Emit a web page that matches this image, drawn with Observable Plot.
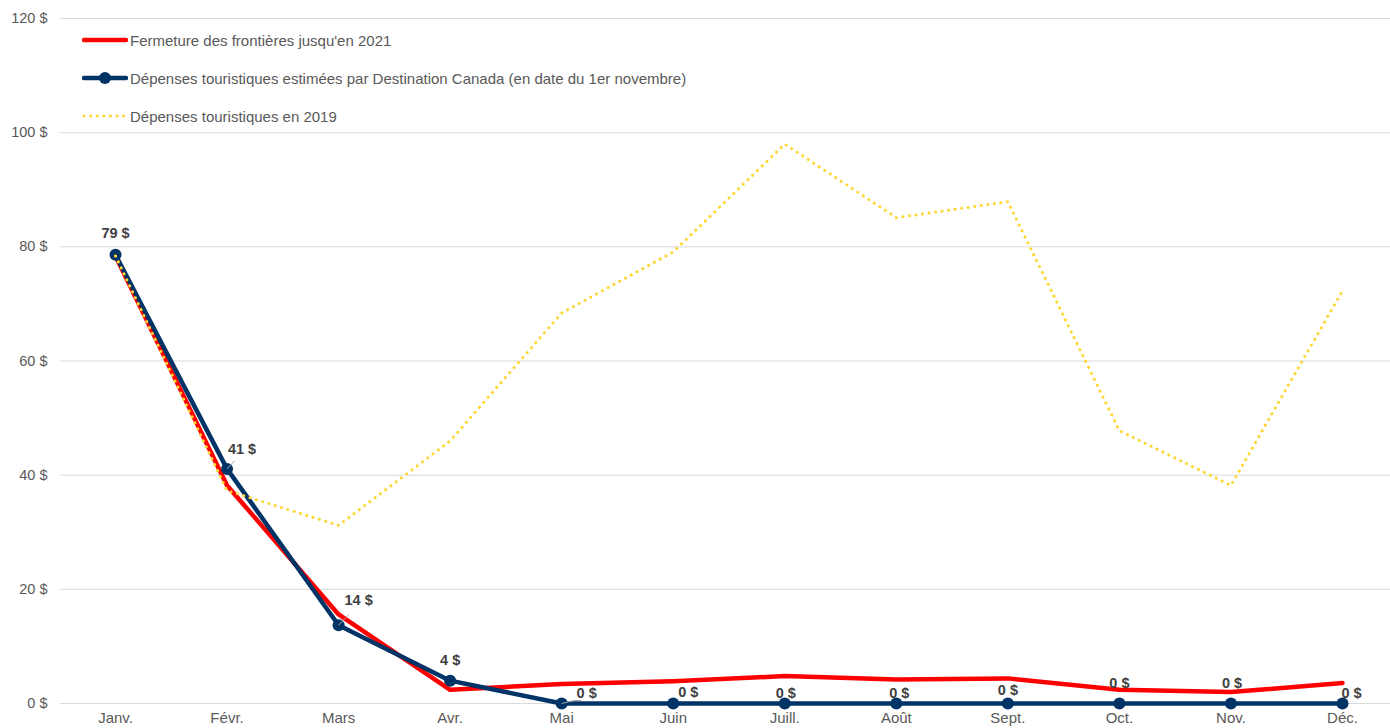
<!DOCTYPE html>
<html>
<head>
<meta charset="utf-8">
<script src="https://cdn.jsdelivr.net/npm/d3@7"></script>
<script src="https://cdn.jsdelivr.net/npm/@observablehq/plot@0.6"></script>
<style>
  html, body { margin: 0; padding: 0; background: #fff; }
  #wrap { position: relative; width: 1390px; height: 728px; overflow: hidden; font-family: "Liberation Sans", Arial, sans-serif; }
  #legend { position: absolute; left: 82px; top: 30px; font-size: 15px; color: #595959; }
  .item { display: flex; align-items: center; height: 20px; margin-bottom: 18px; }
  .item svg { margin-right: 2px; }
</style>
</head>
<body>
<div id="wrap">
  <div id="chart"></div>
  <div id="legend"></div>
</div>
<script>
const months = ["Janv.", "Févr.", "Mars", "Avr.", "Mai", "Juin", "Juill.", "Août", "Sept.", "Oct.", "Nov.", "Déc."];
const fermeture = [78.4, 38.2, 15.6, 2.4, 3.4, 3.9, 4.8, 4.2, 4.4, 2.4, 2.0, 3.6];
const estimees = [78.6, 41.1, 13.7, 4.0, 0, 0, 0, 0, 0, 0, 0, 0];
const depenses2019 = [78.4, 37.3, 31.2, 46.0, 68.4, 79.1, 98.0, 85.1, 87.9, 47.8, 38.2, 72.3];
const labels = ["79 $", "41 $", "14 $", "4 $", "0 $", "0 $", "0 $", "0 $", "0 $", "0 $", "0 $", "0 $"];
const yTicks = [0, 20, 40, 60, 80, 100, 120];
const seriesNames = ["Fermeture des frontières jusqu'en 2021", "Dépenses touristiques estimées par Destination Canada (en date du 1er novembre)", "Dépenses touristiques en 2019"];

// label placement offsets (pixels) and leader flags
const labelDx = [0, 15, 20, 0, 25, 15, 1, 3, 0, 0, 1, 9];
const labelDy = [-21, -20, -25, -20, -10, -11, -10, -10, -13, -20, -20, -10];
const leader = [false, true, true, false, true, false, false, false, false, false, false, false];

const RED = "#ff0000", BLUE = "#003366", YELLOW = "#fdd835";
const FONT = "'Liberation Sans', Arial, sans-serif";

const rows = months.map((m, i) => ({m, f: fermeture[i], e: estimees[i], d: depenses2019[i], label: labels[i], i}));

const labelMarks = rows.map(r => Plot.text([r], {
  x: "m", y: "e", text: "label", dx: labelDx[r.i], dy: labelDy[r.i],
  fill: "#404040", fontWeight: "bold", fontSize: 14.5
}));
const leaderMarks = rows.filter(r => leader[r.i]).map(r => Plot.link([r], {
  x1: "m", y1: "e", x2: "m", y2: "e", stroke: "#a6a6a6", strokeWidth: 1,
  render: (index, scales, values, dims, ctx, next) => {
    const g = next(index, scales, values, dims, ctx);
    const x = values.x1[0], y = values.y1[0];
    const dx = labelDx[r.i], dy = labelDy[r.i];
    d3.select(g).selectAll("*").remove();
    d3.select(g).append("path")
      .attr("d", `M${x},${y}L${x + dx * 0.5},${y + dy * 0.5 + 2}` + (r.i === 4 ? `L${x + dx * 0.5 + 7},${y + dy * 0.5 + 2}` : ""))
      .attr("fill", "none").attr("stroke", "#a6a6a6").attr("stroke-width", 1);
    return g;
  }
}));

const chart = Plot.plot({
  width: 1390,
  height: 728,
  marginLeft: 60,
  marginRight: 0,
  marginTop: 18,
  marginBottom: 25,
  style: {fontFamily: FONT, fontSize: "15px", background: "#fff", overflow: "visible"},
  x: {type: "point", domain: months, range: [115, 1342], padding: 0, round: false, label: null},
  y: {domain: [0, 120], range: [703, 18], label: null},
  marks: [
    Plot.ruleY(yTicks, {stroke: "#d9d9d9", strokeWidth: 1}),
    Plot.axisY(yTicks, {tickSize: 0, tickPadding: 13, tickFormat: d => `${d} $`, fontSize: 14.5, fill: "#595959", label: null}),
    Plot.axisX(months, {tickSize: 0, tickPadding: 9, fontSize: 15, fill: "#595959", label: null}),
    Plot.line(rows, {x: "m", y: "f", stroke: RED, strokeWidth: 4.5, strokeLinejoin: "round"}),
    Plot.line(rows, {x: "m", y: "e", stroke: BLUE, strokeWidth: 4.5, strokeLinejoin: "round"}),
    Plot.dot(rows, {x: "m", y: "e", r: 6, fill: BLUE}),
    Plot.line(rows, {x: "m", y: "d", stroke: YELLOW, strokeWidth: 3, strokeDasharray: "0.1 6.5", strokeLinecap: "round"}),
    ...leaderMarks,
    ...labelMarks
  ]
});
document.getElementById("chart").appendChild(chart);

// legend
const legend = document.getElementById("legend");
const swatches = [
  `<svg width="46" height="12"><line x1="2" y1="6" x2="44" y2="6" stroke="${RED}" stroke-width="4.5" stroke-linecap="round"/></svg>`,
  `<svg width="46" height="14"><line x1="2" y1="7" x2="44" y2="7" stroke="${BLUE}" stroke-width="4.5" stroke-linecap="round"/><circle cx="23" cy="7" r="6" fill="${BLUE}"/></svg>`,
  `<svg width="46" height="12"><line x1="2" y1="6" x2="44" y2="6" stroke="${YELLOW}" stroke-width="3" stroke-dasharray="0.1 6.5" stroke-linecap="round"/></svg>`
];
seriesNames.forEach((name, i) => {
  const div = document.createElement("div");
  div.className = "item";
  div.innerHTML = swatches[i] + `<span>${name}</span>`;
  legend.appendChild(div);
});
</script>
</body>
</html>
